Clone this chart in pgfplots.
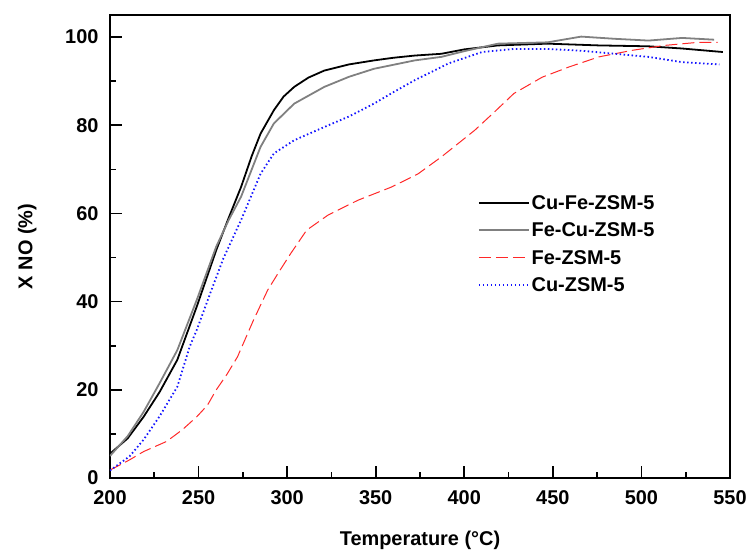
\documentclass[border=0pt]{standalone}
\usepackage{fontspec}
\setmainfont{Liberation Sans}
\usepackage{pgfplots}
\pgfplotsset{compat=1.18}
\usetikzlibrary{calc}
\definecolor{cgrey}{RGB}{128,128,128}
\definecolor{cred}{RGB}{255,40,40}
\definecolor{cblue}{RGB}{20,20,255}
\begin{document}
\begin{tikzpicture}
\begin{axis}[
  name=ax,
  scale only axis,
  width=620bp, height=463bp,
  xmin=200, xmax=550, ymin=0, ymax=105,
  xtick={200,250,...,550}, ytick={0,20,...,100},
  minor x tick num=1, minor y tick num=1,
  xtick pos=bottom, ytick pos=left,
  tick align=inside,
  major tick length=12bp, minor tick length=6bp,
  every tick/.style={black, line width=1.6pt},
  axis line style={line width=1.6pt},
  /pgf/number format/assume math mode=true,
  ticklabel style={font=\bfseries\fontsize{20}{23}\selectfont},
  yticklabel style={xshift=-8bp},
  xticklabel style={yshift=-9bp},
  label style={font=\bfseries\fontsize{20}{23}\selectfont},
  xlabel style={yshift=-20bp},
  ylabel style={yshift=22bp},
  xlabel={Temperature (°C)},
  ylabel={X NO (\%)},
  legend style={at={(0.593,0.615)}, anchor=north west, draw=none, fill=none,
    font=\bfseries\fontsize{20}{23}\selectfont, row sep=8bp, inner sep=0pt},
  legend cell align=left,
  legend image code/.code={\draw[#1] (0bp,0.3bp) -- (50bp,0.3bp);},
]
\addplot[black, line width=1.8pt] coordinates {
(200,5.5) (210,9) (219,13.9) (228,19.5) (238,26.8) (249,38.9) (260,51.7) (267,59) (274,66) (280,73) (285,78.1) (292.5,83.4) (298,86.5) (304,88.7) (312,90.8) (321,92.4) (335,93.8) (349,94.7) (360,95.3) (372,95.8) (387,96.2) (400,97.2) (419,98.1) (447,98.5) (476,98.1) (504,97.9) (523,97.4) (546,96.6)
};
\addlegendentry{Cu-Fe-ZSM-5}
\addplot[cgrey, line width=1.8pt] coordinates {
(200,5) (210,9.5) (219,15) (228,21.5) (238,29) (249,40.4) (260,52.5) (267,58.5) (274,63.8) (285,75.1) (292.5,80.4) (304,84.9) (321,88.7) (335,91) (349,92.8) (372,94.7) (387,95.5) (400,96.8) (419,98.5) (447,98.8) (466,100.1) (485,99.6) (504,99.2) (523,99.8) (541,99.4)
};
\addlegendentry{Fe-Cu-ZSM-5}
\addplot[cred, line width=1pt, dash pattern=on 12bp off 5bp] coordinates {
(200,1.8) (211,4.1) (219,6) (232,8.3) (241,11) (249,13.9) (255,16.5) (260,20) (266,23.5) (272,27.5) (281,35.8) (289,42.6) (295,46.5) (302,50.9) (311,56.2) (323,59.6) (340,63) (359,66) (374,69) (387,72.8) (397,76) (406,78.9) (417,83) (428,87.2) (444,90.9) (459,93.2) (476,95.5) (495,97) (513,98.1) (532,98.8) (543,98.8)
};
\addlegendentry{Fe-ZSM-5}
\addplot[cblue, line width=1.8pt, dash pattern=on 1.5bp off 2.5bp] coordinates {
(200,1.7) (211,4.9) (219,8.7) (228,14) (238,20.7) (245,29.8) (249,33.6) (256.6,41.9) (264,49.8) (274,58.5) (285,69) (292.5,73.6) (304,76.6) (321,79.6) (335,82) (349,84.9) (360,87.5) (372,90.2) (391,94) (410,96.6) (428,97.3) (447,97.3) (466,96.9) (485,96.2) (504,95.5) (523,94.3) (544,93.8)
};
\addlegendentry{Cu-ZSM-5}
\end{axis}
\path ($(ax.south west)+(-110bp,-73bp)$) rectangle ($(ax.north east)+(20bp,15bp)$);
\end{tikzpicture}
\end{document}
